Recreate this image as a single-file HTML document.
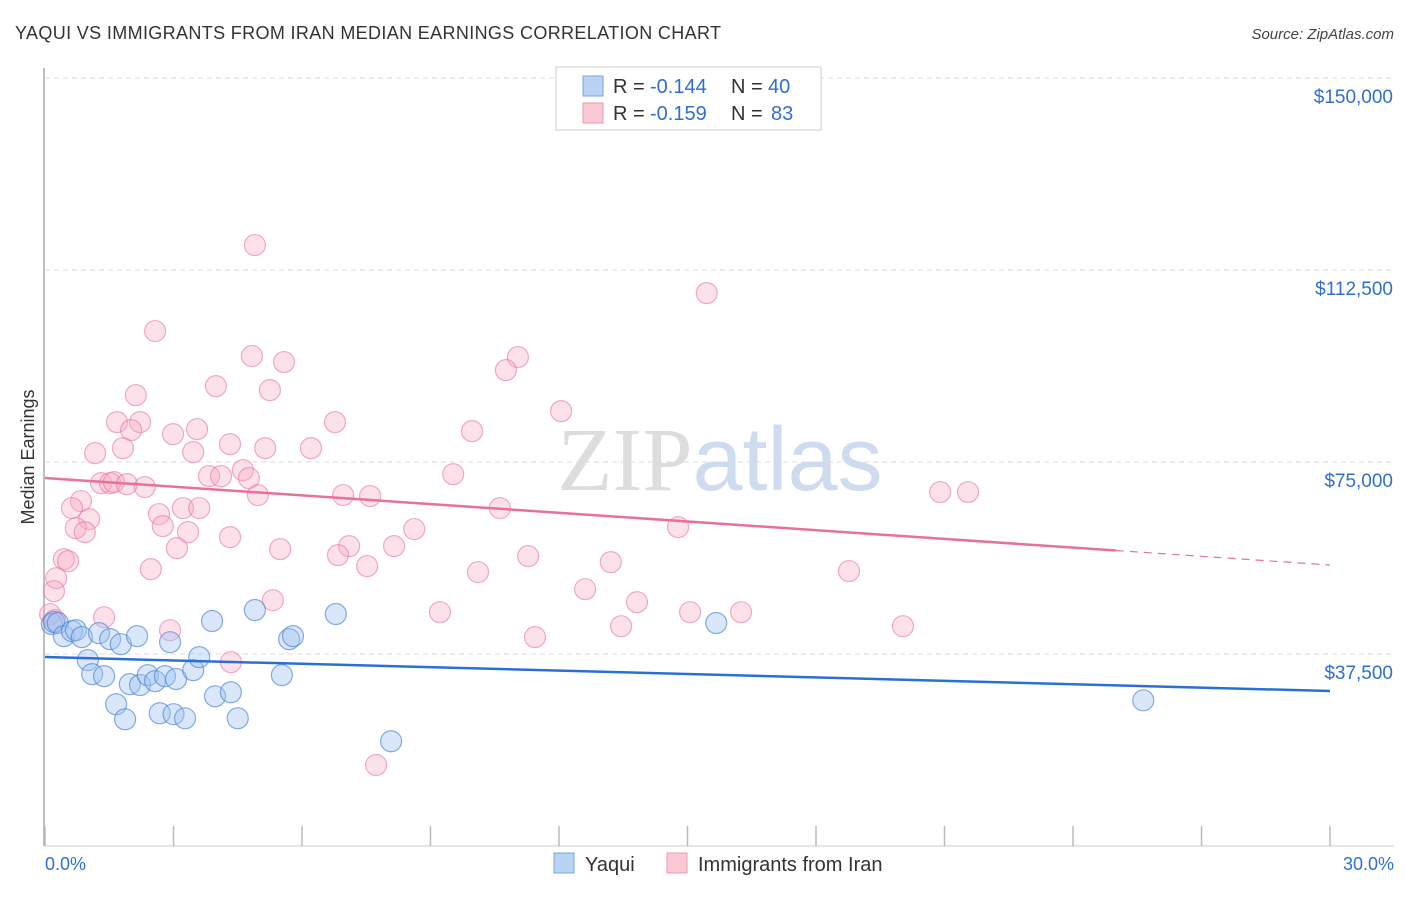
<!DOCTYPE html>
<html><head><meta charset="utf-8"><style>
body{margin:0;background:#fff;font-family:"Liberation Sans",sans-serif;}
svg text{font-family:"Liberation Sans",sans-serif;}
</style></head><body>
<svg id="chart" width="1406" height="892" xmlns="http://www.w3.org/2000/svg">
<text x="15" y="39" font-size="18" fill="#333" textLength="706">YAQUI VS IMMIGRANTS FROM IRAN MEDIAN EARNINGS CORRELATION CHART</text>
<text x="1394" y="39" font-size="15" fill="#444" text-anchor="end" font-style="italic">Source: ZipAtlas.com</text>
<text transform="translate(34,457) rotate(-90)" font-size="18" fill="#333" text-anchor="middle">Median Earnings</text>
<g id="grid"></g>
<text x="720" y="490" font-size="90" text-anchor="middle"><tspan fill="#ddd" font-family="Liberation Serif">ZIP</tspan><tspan fill="#cfdcf0">atlas</tspan></text>
<g id="marks"></g>
<g>
<rect x="556" y="67" width="265" height="63" fill="#fff" stroke="#ccc"/>
<rect x="583" y="76" width="20" height="20" fill="#b9d3f5" stroke="#7aa6e0"/>
<rect x="583" y="103" width="20" height="20" fill="#f9c9d6" stroke="#eb9ab0"/>
<text x="613" y="93" font-size="20" fill="#333">R =</text>
<text x="650" y="93" font-size="20" fill="#2f6fd0">-0.144</text>
<text x="731" y="93" font-size="20" fill="#333">N =</text>
<text x="768" y="93" font-size="20" fill="#2f6fd0">40</text>
<text x="613" y="120" font-size="20" fill="#333">R =</text>
<text x="650" y="120" font-size="20" fill="#2f6fd0">-0.159</text>
<text x="731" y="120" font-size="20" fill="#333">N =</text>
<text x="771" y="120" font-size="20" fill="#2f6fd0">83</text>
</g>
<g>
<rect x="554" y="853" width="20" height="20" fill="#b9d3f5" stroke="#7aa6e0"/>
<text x="585" y="871" font-size="20" fill="#333">Yaqui</text>
<rect x="667" y="853" width="20" height="20" fill="#f9c9d6" stroke="#eb9ab0"/>
<text x="698" y="871" font-size="20" fill="#333">Immigrants from Iran</text>
</g>
<text x="45" y="870" font-size="18" fill="#2f6fd0">0.0%</text>
<text x="1394" y="870" font-size="18" fill="#2f6fd0" text-anchor="end">30.0%</text>
</svg>
<script>
const yTicks=[37500,75000,112500,150000];
const yTickLabels=["$37,500","$75,000","$112,500","$150,000"];
const xTicks=[0,3,6,9,12,15,18,21,24,27,30];
const yaquiX=[0.16,0.21,0.3,0.44,0.63,0.72,0.86,1.0,1.1,1.26,1.38,1.52,1.66,1.77,1.87,1.98,2.15,2.22,2.4,2.57,2.68,2.8,2.92,3.0,3.06,3.27,3.46,3.6,3.9,3.97,4.34,4.5,4.9,5.53,5.7,5.79,6.79,8.08,15.67,25.64];
const yaquiY=[43360,43750,43560,40990,41970,42160,40790,36300,33570,41580,33180,40400,27680,39420,24750,31620,40990,31440,33370,32200,25930,33180,39810,25740,32620,24940,34350,36890,43950,29240,30030,24950,46100,33370,40400,40990,45310,20460,43560,28450];
const iranX=[4.9,15.45,2.57,4.83,5.58,11.04,10.76,3.99,5.25,2.12,1.68,2.22,6.77,12.05,3.55,2.01,2.99,9.97,1.17,1.82,4.32,5.14,3.46,6.21,1.31,1.52,1.61,1.91,3.83,4.11,4.62,2.33,9.53,4.76,4.97,6.96,7.59,3.22,3.6,10.62,0.84,0.63,1.03,2.66,2.75,3.34,8.62,14.78,20.9,21.55,0.72,0.93,3.08,4.32,5.49,7.1,8.15,0.44,0.54,2.47,6.84,7.52,10.11,11.28,13.21,18.77,0.26,0.21,5.32,12.61,9.22,13.82,16.25,15.06,1.38,2.92,13.45,20.03,11.44,4.34,7.73,0.12,0.23];
const iranY=[117370,107990,100570,95690,94520,95490,92950,89820,89040,88060,82790,82790,82790,84940,81420,81230,80450,81030,76730,77710,78490,77710,76930,77710,70880,70880,71070,70680,72240,72240,73410,70100,72630,71850,68540,68540,68350,66000,66000,66000,67370,66000,63850,64830,62480,61310,61900,62280,69130,69130,62090,61310,58180,60330,57980,58570,58570,56030,55640,54080,56810,54670,53500,56620,55440,53700,52310,49770,48010,50160,45670,47620,45670,45670,44690,42150,42930,42930,40790,35910,15820,45280,44110];
const blueFit=[36910,30270];
const pinkFit=[71880,54880];
const svg=document.getElementById('chart');
const NS='http://www.w3.org/2000/svg';
const xS=v=>45+(v/30)*1285;
const yS=v=>846-v*(192/37500);
function mk(tag,attrs,parent){const e=document.createElementNS(NS,tag);for(const k in attrs)e.setAttribute(k,attrs[k]);(parent||svg).appendChild(e);return e;}
const grid=document.getElementById('grid');
const ax=mk('line',{x1:44,y1:68,x2:44,y2:846,stroke:'#aaa','stroke-width':1.5},grid);


const bx=mk('line',{x1:44,y1:846,x2:1394,y2:846,stroke:'#ccc','stroke-width':1},grid);


yTicks.forEach((t,i)=>{
 const g=mk('line',{x1:45,y1:yS(t),x2:1394,y2:yS(t),stroke:'#ddd','stroke-dasharray':'5,4'},grid);
 
 
 const l=mk('text',{x:1393,y:yS(t)+25,'font-size':19,fill:'#2f6fd0','text-anchor':'end'},grid);
 l.textContent=yTickLabels[i];
 
 
});
xTicks.forEach(t=>{
 const tk=mk('line',{x1:xS(t),y1:826,x2:xS(t),y2:846,stroke:'#bbb','stroke-width':1.5},grid);
 
 
});
const marks=document.getElementById('marks');
iranX.forEach((x,i)=>{
 const c=mk('circle',{cx:xS(x),cy:yS(iranY[i]),r:10.5,fill:'rgba(246,170,195,0.35)',stroke:'rgba(232,120,155,0.6)','stroke-width':1.2},marks);
 
 
});
yaquiX.forEach((x,i)=>{
 const c=mk('circle',{cx:xS(x),cy:yS(yaquiY[i]),r:10.5,fill:'rgba(160,195,240,0.4)',stroke:'rgba(70,130,215,0.65)','stroke-width':1.2},marks);
 
 
});
const bl=mk('line',{x1:xS(0),y1:yS(blueFit[0]),x2:xS(30),y2:yS(blueFit[1]),stroke:'#2a6fd6','stroke-width':2.5},marks);


const pe=25;
const pm=pinkFit[0]+(pinkFit[1]-pinkFit[0])*pe/30;
const pl=mk('line',{x1:xS(0),y1:yS(pinkFit[0]),x2:xS(pe),y2:yS(pm),stroke:'#e8709a','stroke-width':2.5},marks);


const pd=mk('line',{x1:xS(pe),y1:yS(pm),x2:xS(30),y2:yS(pinkFit[1]),stroke:'#e8709a','stroke-width':1.2,'stroke-dasharray':'8,6'},marks);


</script>
</body></html>
